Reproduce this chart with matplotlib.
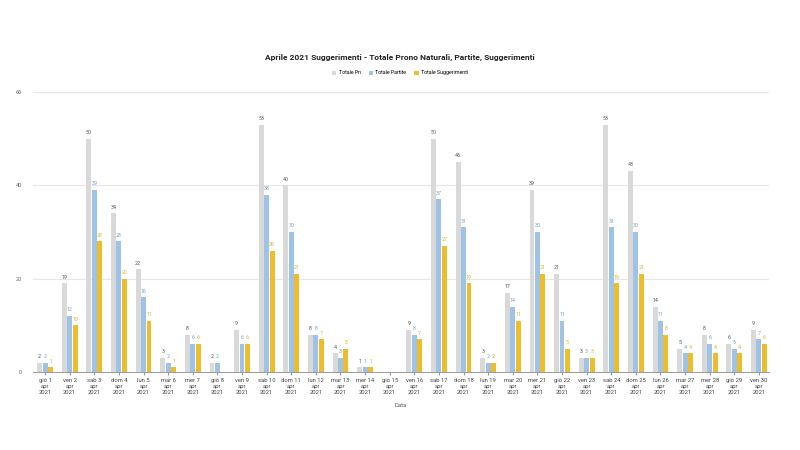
"""Aprile 2021 suggerimenti: grouped bar chart of daily totals."""
import matplotlib

matplotlib.use("Agg")
import matplotlib.pyplot as plt
import numpy as np

plt.rcParams["font.family"] = ["Roboto", "DejaVu Sans"]

DAYS = ["giò 1", "ven 2", "sab 3", "dom 4", "lun 5", "mar 6", "mer 7", "giò 8", "ven 9", "sab 10",
        "dom 11", "lun 12", "mar 13", "mer 14", "giò 15", "ven 16", "sab 17", "dom 18", "lun 19", "mar 20",
        "mer 21", "giò 22", "ven 23", "sab 24", "dom 25", "lun 26", "mar 27", "mer 28", "giò 29", "ven 30"]
TOTALE_PN = [2, 19, 50, 34, 22, 3, 8, 2, 9, 53, 40, 8, 4, 1, 0, 9, 50, 45, 3, 17,
             39, 21, 3, 53, 43, 14, 5, 8, 6, 9]
TOTALE_PARTITE = [2, 12, 39, 28, 16, 2, 6, 2, 6, 38, 30, 8, 3, 1, 0, 8, 37, 31, 2, 14,
                  30, 11, 3, 31, 30, 11, 4, 6, 5, 7]
TOTALE_SUGGERIMENTI = [1, 10, 28, 20, 11, 1, 6, 0, 6, 26, 21, 7, 5, 1, 0, 7, 27, 19, 2, 11,
                       21, 5, 3, 19, 21, 8, 4, 4, 4, 6]
SERIES_NAMES = ["Totale Pn", "Totale Partite", "Totale Suggerimenti"]

BAR_COLORS = ["#d9d9d9", "#9fc3e7", "#edbd2c"]
LABEL_COLORS = ["#555555", "#6f9fd0", "#e0b020"]


def main() -> None:
    fig = plt.figure(figsize=(8, 4.5), dpi=100)
    ax = fig.add_axes((0.041, 0.173, 0.92, 0.623))

    x = np.arange(len(DAYS))
    width = 0.2
    offsets = [-0.22, 0.0, 0.22]
    series = [TOTALE_PN, TOTALE_PARTITE, TOTALE_SUGGERIMENTI]

    for vals, off, col, lcol, name in zip(series, offsets, BAR_COLORS, LABEL_COLORS, SERIES_NAMES):
        ax.bar(x + off, vals, width, color=col, label=name, zorder=2)
        for xi, v in zip(x, vals):
            if v == 0:
                continue
            ax.text(xi + off, v + 0.8, str(v), ha="center", va="bottom", fontsize=3.8, color=lcol)

    ax.set_ylim(0, 60)
    ax.set_xlim(-0.5, len(DAYS) - 0.6)
    ax.set_yticks([0, 20, 40, 60])
    ax.tick_params(axis="y", labelsize=4, colors="#666666", length=0, pad=8)
    ax.grid(True, axis="y", color="#e6e6e6", linewidth=0.8, zorder=0)

    ax.set_xticks(x)
    ax.set_xticklabels([f"{d}\napr\n2021" for d in DAYS], fontsize=4.2, color="#444444", linespacing=1.3)
    ax.tick_params(axis="x", length=2, color="#999999", pad=2)

    for side in ("top", "right", "left"):
        ax.spines[side].set_visible(False)
    ax.spines["bottom"].set_color("#999999")
    ax.spines["bottom"].set_linewidth(0.7)

    ax.set_xlabel("Data", fontsize=4.2, color="#555555", labelpad=6)

    fig.text(0.5, 0.873, "Aprile 2021 Suggerimenti - Totale Prono Naturali, Partite, Suggerimenti",
             ha="center", va="center", fontsize=6, fontweight="bold", color="#222222")
    fig.legend(loc="center", bbox_to_anchor=(0.5, 0.838), ncol=3, frameon=False,
               fontsize=3.8, handlelength=0.8, handleheight=0.8, columnspacing=1.5, handletextpad=0.5)

    fig.savefig("out.png", dpi=100, facecolor="white")


if __name__ == "__main__":
    main()
